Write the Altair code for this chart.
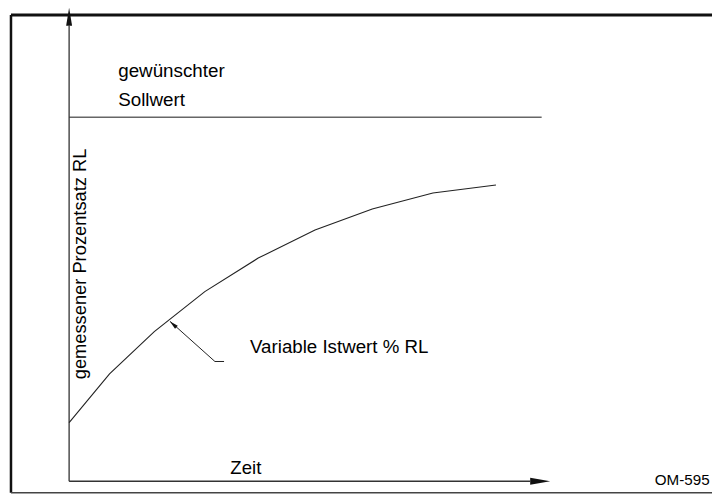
import altair as alt
import pandas as pd

# ---- data (time units on x, percent RL on y) ----
X_DOMAIN = [-12.7, 133.6]
Y_DOMAIN = [-3.5, 130]

curve_time = [0, 8.4, 17.7, 28.2, 39.3, 51.1, 63.0, 75.6, 88.7]
curve_value = [16.1, 29.5, 41.1, 52.1, 61.3, 69.0, 74.8, 79.2, 81.4]

setpoint_value = 100
setpoint_start = 0
setpoint_end = 98.2

frame_left, frame_right, frame_bottom, frame_top = -12.08, 134.0, -3.13, 128.1

x_axis_end = 95.8
x_arrow_pos = 97.9
y_axis_end = 125.1
y_arrow_pos = 127.6

leader_time = [21.0, 30.3, 32.2]
leader_value = [43.9, 32.9, 32.9]
leader_head = [21.6, 43.1]

FONT = "Liberation Sans"

xs = lambda f="x": alt.X(f"{f}:Q", scale=alt.Scale(domain=X_DOMAIN, nice=False, zero=False), axis=None)
ys = lambda f="y": alt.Y(f"{f}:Q", scale=alt.Scale(domain=Y_DOMAIN, nice=False, zero=False), axis=None)


def seg(x, x2, y, y2, w, color):
    df = pd.DataFrame({"x": [x], "x2": [x2], "y": [y], "y2": [y2]})
    return alt.Chart(df).mark_rule(strokeWidth=w, color=color, clip=False).encode(
        x=xs(), x2="x2:Q", y=ys(), y2="y2:Q")


frame_top_c = seg(frame_left, frame_right, frame_top, frame_top, 3, "#111111")
frame_left_c = seg(frame_left, frame_left, frame_bottom, frame_top, 2.5, "#111111")
frame_bottom_c = seg(frame_left, frame_right, frame_bottom, frame_bottom, 1.5, "#444444")

x_axis = seg(0, x_axis_end, 0, 0, 1.3, "#333333")
y_axis = seg(0, 0, 0, y_axis_end, 1.3, "#333333")
setpoint = seg(setpoint_start, setpoint_end, setpoint_value, setpoint_value, 1.6, "#666666")

curve = alt.Chart(pd.DataFrame({"x": curve_time, "y": curve_value, "o": range(len(curve_time))})).mark_line(
    color="#222222", strokeWidth=1.1).encode(x=xs(), y=ys(), order="o:Q")

leader = alt.Chart(pd.DataFrame({"x": leader_time, "y": leader_value, "o": range(len(leader_time))})).mark_line(
    color="#222222", strokeWidth=1).encode(x=xs(), y=ys(), order="o:Q")

head_df = pd.DataFrame({"x": [leader_head[0]], "y": [leader_head[1]]})
leader_arrow = alt.Chart(head_df).mark_point(
    shape="M0,-1L0.45,1L-0.45,1Z", size=81, filled=True, color="#111111", opacity=1, angle=311.6
).encode(x=xs(), y=ys())

xa_df = pd.DataFrame({"x": [x_arrow_pos], "y": [0]})
x_arrow = alt.Chart(xa_df).mark_point(
    shape="M1,0L-1,-0.35L-1,0.35Z", size=400, filled=True, color="#111111", opacity=1
).encode(x=xs(), y=ys())

ya_df = pd.DataFrame({"x": [0], "y": [y_arrow_pos]})
y_arrow = alt.Chart(ya_df).mark_point(
    shape="M0,-1L0.33,1L-0.33,1Z", size=324, filled=True, color="#111111", opacity=1
).encode(x=xs(), y=ys())


def label(text, x, y, size=18.6, angle=0, align="left", baseline="alphabetic"):
    df = pd.DataFrame({"x": [x], "y": [y], "t": [text]})
    kw = dict(font=FONT, fontSize=size, color="#000000", align=align, baseline=baseline)
    if angle:
        kw["angle"] = angle
    return alt.Chart(df).mark_text(**kw).encode(x=xs(), y=ys(), text="t:N")


t1 = label("gewünschter", 10.2, 111.1, size=18.8)
t2 = label("Sollwert", 10.2, 103.0, size=18.8)
t3 = label("Variable Istwert % RL", 37.6, 35.3, size=18.7)
t4 = label("gemessener Prozentsatz RL", 2.5, 59.7, size=18.3, angle=270, align="center", baseline="middle")
t5 = label("Zeit", 33.5, 2.0)
t6 = label("OM-595", 133.1, -1.0, size=15.2, align="right")

chart = alt.layer(
    frame_top_c, frame_left_c, frame_bottom_c, setpoint, x_axis, y_axis, curve, leader,
    leader_arrow, x_arrow, y_arrow, t1, t2, t3, t4, t5, t6
).properties(
    width=704, height=486, autosize=alt.AutoSizeParams(type="none"), padding=0
).configure_view(stroke=None)

chart.save("out.html", embed_options={"renderer": "svg", "actions": False})
